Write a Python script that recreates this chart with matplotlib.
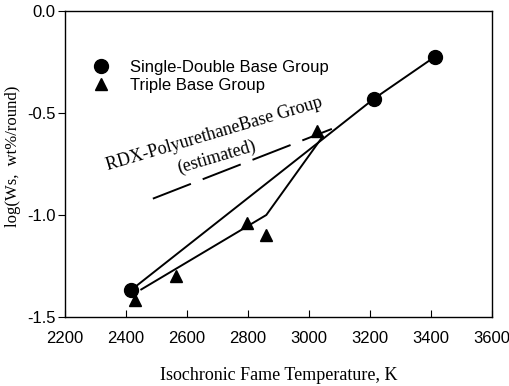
import matplotlib
matplotlib.use("Agg")
import matplotlib.pyplot as plt
from matplotlib.lines import Line2D

# Data
sd_temp = [2415, 3213, 3412]
sd_logw = [-1.37, -0.43, -0.225]

tb_temp = [2430, 2563, 2797, 2858, 3026]
tb_logw = [-1.417, -1.30, -1.04, -1.10, -0.59]

tb_fit_temp = [2450, 2860, 3045]
tb_fit_logw = [-1.365, -1.0, -0.615]

rdx_temp = [2488, 3075]
rdx_logw = [-0.92, -0.578]

xticks = [2200, 2400, 2600, 2800, 3000, 3200, 3400, 3600]
yticks = [0.0, -0.5, -1.0, -1.5]

sans = ["Liberation Sans", "DejaVu Sans"]
serif = ["Liberation Serif", "DejaVu Serif"]

fig = plt.figure(figsize=(5.10, 3.86), dpi=100)
ax = fig.add_axes([0.1275, 0.1788, 0.8372, 0.7927])

ax.plot(sd_temp, sd_logw, color="black", lw=1.4, zorder=2)
ax.plot(sd_temp, sd_logw, "o", color="black", ms=10, zorder=3)
ax.plot(tb_fit_temp, tb_fit_logw, color="black", lw=1.4, zorder=2)
ax.plot(tb_temp, tb_logw, "^", color="black", ms=9, zorder=3)
dl, = ax.plot(rdx_temp, rdx_logw, color="black", lw=1.4, zorder=2)
dl.set_dashes([21, 6.5])

ax.set_xlim(2200, 3600)
ax.set_ylim(-1.5, 0.0)
ax.set_xticks(xticks)
ax.set_yticks(yticks)
ax.set_xticklabels([str(t) for t in xticks], fontfamily=sans, fontsize=12)
ax.set_yticklabels([f"{t:.1f}" for t in yticks], fontfamily=sans, fontsize=12)
ax.tick_params(axis="x", direction="in", length=5, pad=10)
ax.tick_params(axis="y", direction="out", length=5, pad=2)
for s in ax.spines.values():
    s.set_linewidth(1.0)

ax.set_xlabel("Isochronic Fame Temperature, K", fontfamily=serif, fontsize=13, labelpad=15)
ax.set_ylabel("log(Ws,  wt%/round)", fontfamily=serif, fontsize=12)
ax.yaxis.set_label_coords(-0.103, 0.526)

handles = [Line2D([], [], marker="o", color="black", ls="none", ms=10),
           Line2D([], [], marker="^", color="black", ls="none", ms=9)]
ax.legend(handles, ["Single-Double Base Group", "Triple Base Group"],
          loc="upper left", bbox_to_anchor=(0.05, 0.863), frameon=False,
          prop={"family": sans, "size": 12}, handlelength=1.0,
          handletextpad=1.2, labelspacing=0.2, borderaxespad=0)

ax.text(2690, -0.605, "RDX-PolyurethaneBase Group", fontfamily=serif, fontsize=13,
        rotation=16.5, ha="center", va="center", rotation_mode="anchor")
ax.text(2698, -0.716, "(estimated)", fontfamily=serif, fontsize=13,
        rotation=16.5, ha="center", va="center", rotation_mode="anchor")

fig.savefig("out.png", dpi=100)
